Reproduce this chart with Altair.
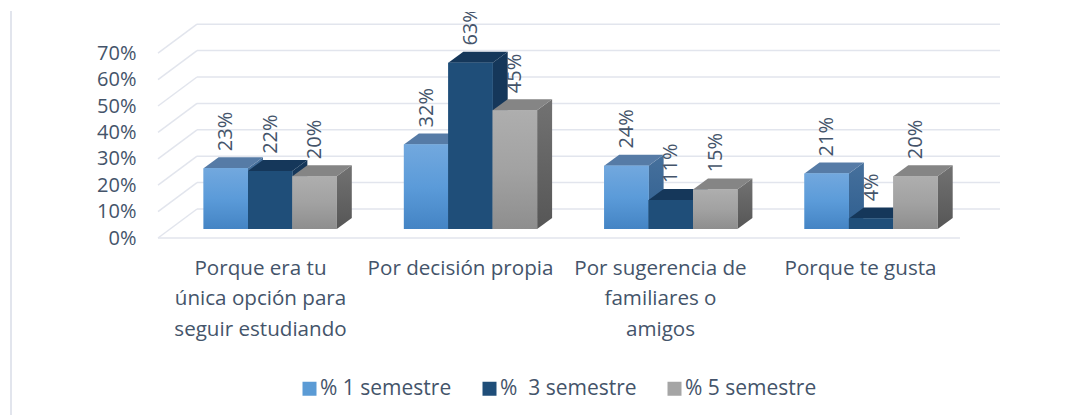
import json
import altair as alt
import pandas as pd

categories = ["Porque era tu única opción para seguir estudiando", "Por decisión propia",
              "Por sugerencia de familiares o amigos", "Porque te gusta"]
category_lines = [["Porque era tu", "única opción para", "seguir estudiando"],
                  ["Por decisión propia"],
                  ["Por sugerencia de", "familiares o", "amigos"],
                  ["Porque te gusta"]]
series_names = ["% 1 semestre", "%\u00a0 3 semestre", "% 5 semestre"]
sem1 = [23, 32, 24, 21]
sem3 = [22, 63, 11, 4]
sem5 = [20, 45, 15, 20]
y_ticks = [0, 10, 20, 30, 40, 50, 60, 70]

FONT = "Open Sans"
FS = 20
FS_CAT = 20.6
FS_LEG = 21
TXT = "#44546A"
GRID = "#E2E5ED"
PX = 2.64           # pixels per percentage point
DX, DY = 15, 11 / PX    # 3-D depth of a bar
BASE = 9 / PX       # bar foot above front floor
BACK_DX, BACK = 39, 29 / PX
X0, STEP, BW = 203.6, 200.3, 44.4
FLOOR_X0, FLOOR_X1, BACK_X1 = 158, 960, 1000
PLOT_TOP, PLOT_H, FRONT0 = 12, 404, 238

def grad(*cols):
    n = len(cols) - 1
    return alt.Gradient(gradient="linear", x1=0, x2=0, y1=0, y2=1,
                        stops=[alt.GradientStop(color=c, offset=i / n) for i, c in enumerate(cols)])

styles = [
    dict(front=grad("#72A8DE", "#5B9BD9", "#4484C4"), top="#567BA6", side=grad("#46709C", "#2F5F90")),
    dict(front=grad("#1F4E79", "#1F4E79"), top="#15375A", side=grad("#15375A", "#15375A")),
    dict(front=grad("#AEAEAE", "#A2A2A2", "#8E8E8E"), top="#858585", side=grad("#727272", "#565656")),
]

y_scale = alt.Scale(domain=[(FRONT0 - PLOT_TOP - PLOT_H) / PX, (FRONT0 - PLOT_TOP) / PX], nice=False, zero=False)
x_scale = alt.Scale(domain=[8, 1077], nice=False, zero=False)

label_centers = [260 + 200 * i for i in range(4)]
label_expr = f"{json.dumps(category_lines, ensure_ascii=False)}[round((datum.value-260)/200)]"
x_axis = alt.Axis(values=label_centers, labelExpr=label_expr, title=None, domain=False, ticks=False, grid=False,
                  labelFont=FONT, labelFontSize=FS_CAT, labelColor=TXT, labelLineHeight=30.5, labelPadding=0,
                  offset=-158, labelOverlap=False, labelFlush=False, labelAlign="center", labelBaseline="top",
                  labelLimit=400)
y_axis = alt.Axis(values=y_ticks, labelExpr="datum.value + '%'", title=None, domain=False, ticks=False, grid=False,
                  labelFont=FONT, labelFontSize=FS, labelColor=TXT, labelPadding=0, offset=-128)
X = lambda f: alt.X(f, type="quantitative", scale=x_scale, axis=x_axis)
Y = lambda f: alt.Y(f, type="quantitative", scale=y_scale, axis=y_axis)

back = pd.DataFrame({"x": FLOOR_X0 + BACK_DX, "x2": BACK_X1, "y": [v + BACK for v in y_ticks]})
front_y = pd.DataFrame({"x": FLOOR_X0, "x2": FLOOR_X1, "v": [0]})
layers = [
    alt.Chart(front_y).mark_rule(color=GRID, strokeWidth=1.5).encode(x=X("x"), x2="x2:Q", y=Y("v")),
    alt.Chart(back).mark_rule(color=GRID, strokeWidth=1.5).encode(x=X("x"), x2="x2:Q", y=Y("y")),
]
slants = pd.DataFrame(
    [{"k": v, "x": FLOOR_X0, "y": v} for v in y_ticks] +
    [{"k": v, "x": FLOOR_X0 + BACK_DX, "y": v + BACK} for v in y_ticks])
layers.append(alt.Chart(slants).mark_line(color=GRID, strokeWidth=1.5).encode(x=X("x"), y=Y("y"), detail="k:N"))
layers.append(alt.Chart(pd.DataFrame({"x": [11], "y0": [-67], "y1": [86]}))
              .mark_rule(color=GRID, strokeWidth=2).encode(x=X("x"), y=Y("y0"), y2="y1:Q"))

color_scale = alt.Scale(domain=series_names, range=["#5B9BD5", "#1F4E79", "#A5A5A5"])
legend = alt.Legend(orient="none", legendX=291, legendY=366, direction="horizontal", columns=3, title=None,
                    symbolType="square", symbolSize=196, symbolStrokeWidth=0, symbolOpacity=1, labelLimit=400,
                    labelFont=FONT, labelFontSize=FS_LEG, labelColor=TXT, labelOffset=0, columnPadding=27, padding=0)

labels = []
for s, (name, vals, st) in enumerate(zip(series_names, [sem1, sem3, sem5], styles)):
    sides, tops, fronts = [], [], []
    for c, v in enumerate(vals):
        xl = X0 + c * STEP + s * BW
        xr = xl + BW
        top = v + BASE
        sides += [dict(c=c, x=xr, lo=BASE, hi=top), dict(c=c, x=xr + DX, lo=BASE + DY, hi=top + DY)]
        tops += [dict(c=c, x=xl, lo=top, hi=top), dict(c=c, x=xl + DX, lo=top, hi=top + DY),
                 dict(c=c, x=xr, lo=top, hi=top + DY), dict(c=c, x=xr + DX, lo=top + DY, hi=top + DY)]
        fronts.append(dict(c=c, s=name, x=xl, x2=xr, lo=BASE, hi=top))
        labels.append(dict(x=xl + BW / 2 + 0.5, y=top + DY + 2.3, t=f"{v}%"))
    layers.append(alt.Chart(pd.DataFrame(sides)).mark_area(fill=st["side"], orient="vertical")
                  .encode(x=X("x"), y=Y("lo"), y2="hi:Q", detail="c:N"))
    layers.append(alt.Chart(pd.DataFrame(tops)).mark_area(fill=st["top"], orient="vertical")
                  .encode(x=X("x"), y=Y("lo"), y2="hi:Q", detail="c:N"))
    layers.append(alt.Chart(pd.DataFrame(fronts)).mark_rect()
                  .encode(x=X("x"), x2="x2:Q", y=Y("lo"), y2="hi:Q",
                          color=alt.Color("s:N", scale=color_scale, sort=None, legend=legend)))
    layers.append(alt.Chart(pd.DataFrame(fronts)).mark_rect(fill=st["front"])
                  .encode(x=X("x"), x2="x2:Q", y=Y("lo"), y2="hi:Q"))

layers.append(alt.Chart(pd.DataFrame(labels))
              .mark_text(angle=270, align="left", baseline="middle", font=FONT, fontSize=FS, color=TXT, clip=True)
              .encode(x=X("x"), y=Y("y"), text="t:N"))

chart = alt.layer(*layers).properties(
    width=1069, height=PLOT_H, autosize=alt.AutoSizeParams(type="none"),
    padding={"left": 0, "right": 0, "top": PLOT_TOP - 8, "bottom": 0},
    background="white",
).configure_view(stroke=None)

chart.save("out.html", embed_options={"renderer": "svg", "actions": False})
